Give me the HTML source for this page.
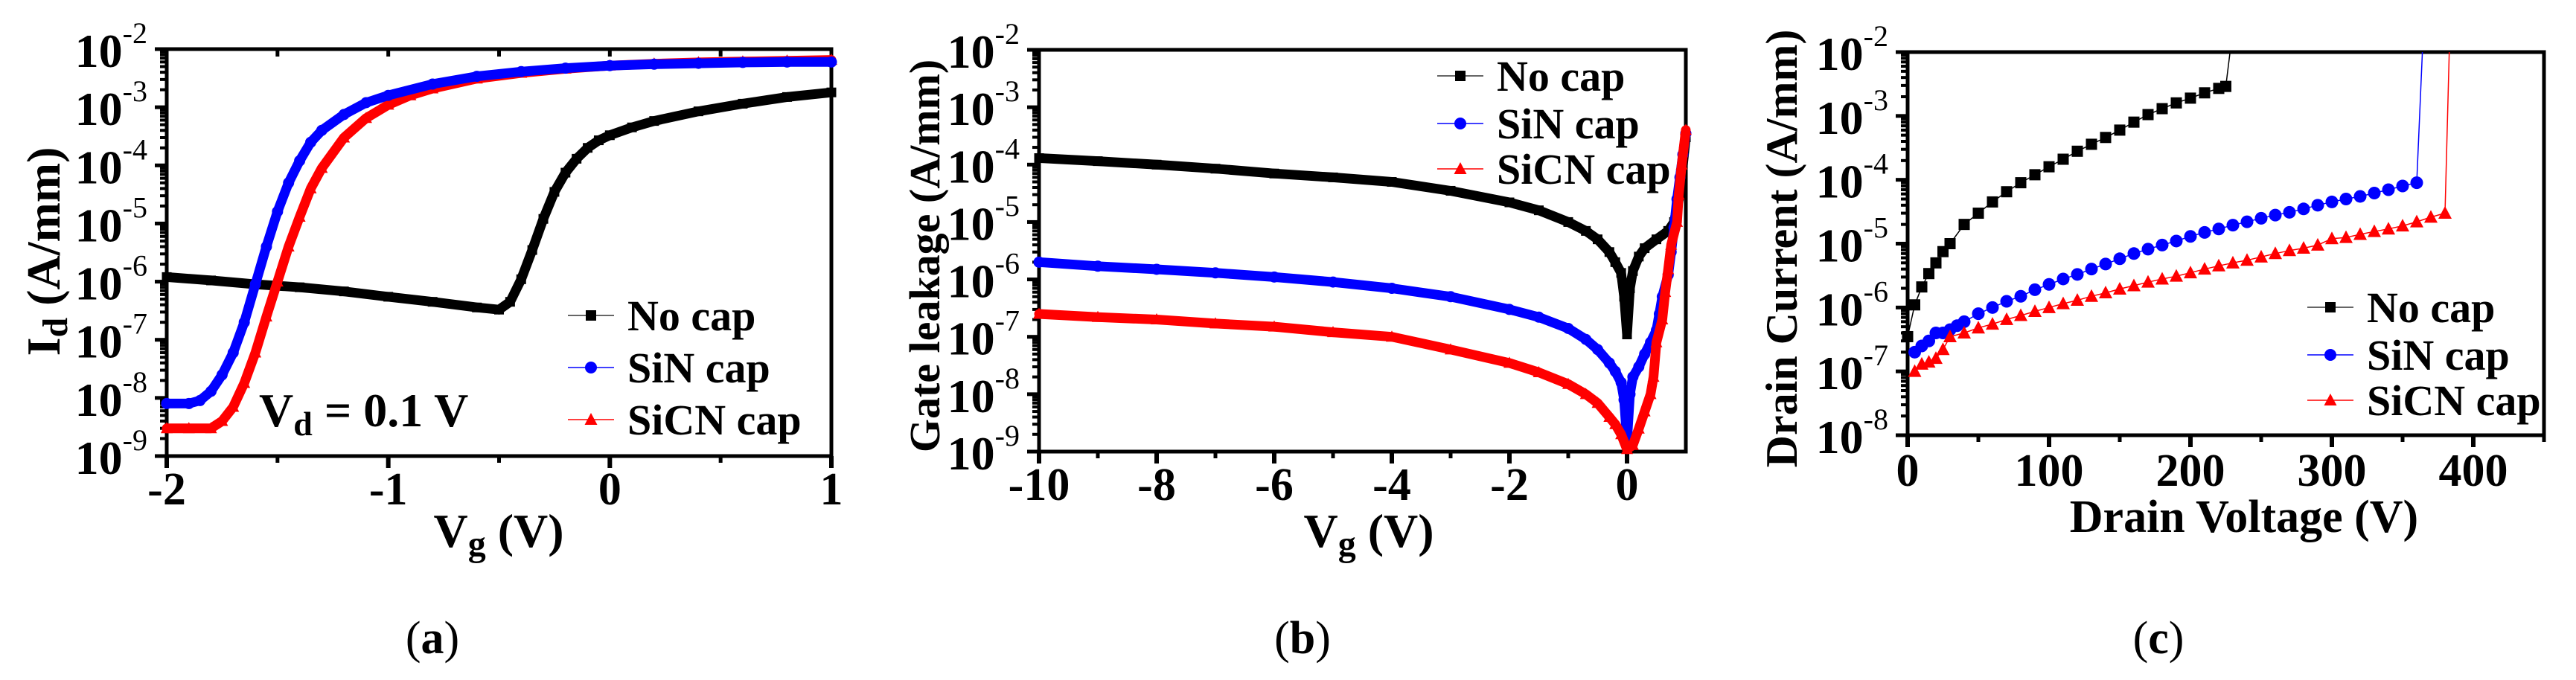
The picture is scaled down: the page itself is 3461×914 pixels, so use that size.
<!DOCTYPE html>
<html><head><meta charset="utf-8"><style>
html,body{margin:0;padding:0;background:#fff;}
svg{display:block;font-family:"Liberation Serif",serif;}
</style></head><body>
<svg id="fig" width="3461" height="914" viewBox="0 0 3461 914" xmlns="http://www.w3.org/2000/svg">
<g id="ga"></g>
<g id="gb"></g>
<g id="gc"></g>
</svg>
<script>
// ---------- Panel (a) data ----------
const aNoCapX = [-2,-1.8,-1.6,-1.4,-1.2,-1.0,-0.8,-0.6,-0.5,-0.45,-0.4,-0.35,-0.3,-0.25,-0.2,-0.15,-0.1,-0.05,0,0.1,0.2,0.4,0.6,0.8,1];
const aNoCapY = [1.2e-6,1.05e-6,9e-7,8e-7,6.8e-7,5.5e-7,4.5e-7,3.6e-7,3.3e-7,4.5e-7,1.1e-6,3.5e-6,1.2e-5,3.5e-5,7.5e-5,1.3e-4,2e-4,2.7e-4,3.3e-4,4.5e-4,5.8e-4,8.5e-4,1.15e-3,1.5e-3,1.8e-3];
const aSiNX = [-2,-1.9,-1.85,-1.8,-1.75,-1.7,-1.65,-1.6,-1.55,-1.5,-1.45,-1.4,-1.35,-1.3,-1.2,-1.1,-1.0,-0.8,-0.6,-0.4,-0.2,0,0.2,0.4,0.6,0.8,1];
const aSiNY = [8e-9,8e-9,9e-9,1.3e-8,2.5e-8,6e-8,2e-7,9e-7,4e-6,1.6e-5,5e-5,1.2e-4,2.5e-4,4e-4,7.5e-4,1.2e-3,1.6e-3,2.5e-3,3.4e-3,4.1e-3,4.7e-3,5.2e-3,5.5e-3,5.7e-3,5.9e-3,6e-3,6e-3];
const aSiCNX = [-2,-1.9,-1.8,-1.75,-1.7,-1.65,-1.6,-1.55,-1.5,-1.45,-1.4,-1.35,-1.3,-1.2,-1.1,-1.0,-0.9,-0.8,-0.6,-0.4,-0.2,0,0.2,0.4,0.6,0.8,1];
const aSiCNY = [3e-9,3e-9,3e-9,4e-9,7e-9,1.8e-8,6e-8,2.5e-7,1e-6,4e-6,1.3e-5,4e-5,9e-5,3e-4,6.5e-4,1.1e-3,1.6e-3,2.1e-3,3.1e-3,3.9e-3,4.6e-3,5.2e-3,5.6e-3,5.9e-3,6.1e-3,6.3e-3,6.5e-3];
const aXTicks = [-2,-1,0,1];
const aXTickLabels = ["-2","-1","0","1"];
const aYExps = [-2,-3,-4,-5,-6,-7,-8,-9];

// ---------- Panel (b) data ----------
const bNoCapX = [-10,-9,-8,-7,-6,-5,-4,-3,-2,-1.5,-1,-0.7,-0.5,-0.3,-0.2,-0.1,-0.05,0,0.05,0.1,0.2,0.3,0.5,0.7,0.8,0.85,0.9,0.95,1];
const bNoCapY = [1.3e-4,1.15e-4,1e-4,8.5e-5,7e-5,6e-5,5e-5,3.5e-5,2.2e-5,1.6e-5,1e-5,7e-6,5e-6,3e-6,2e-6,1.3e-6,5e-7,1.1e-7,7e-7,1.4e-6,2.5e-6,3.5e-6,5e-6,7e-6,1e-5,1.8e-5,3e-5,1e-4,3e-4];
const bSiNX = [-10,-9,-8,-7,-6,-5,-4,-3,-2,-1.5,-1,-0.7,-0.5,-0.3,-0.2,-0.1,-0.05,0,0.05,0.1,0.2,0.3,0.4,0.5,0.55,0.6,0.7,0.75,0.8,0.85,0.9,0.95,1];
const bSiNY = [2e-6,1.7e-6,1.5e-6,1.3e-6,1.1e-6,9e-7,7e-7,5e-7,3e-7,2.2e-7,1.4e-7,9e-8,6e-8,3.5e-8,2.5e-8,1.6e-8,8e-9,1.5e-9,1e-8,2e-8,3e-8,5e-8,8e-8,1.3e-7,2.5e-7,5e-7,1.2e-6,3e-6,8e-6,2.5e-5,6e-5,1.5e-4,3.5e-4];
const bSiCNX = [-10,-9,-8,-7,-6,-5,-4,-3,-2,-1.5,-1,-0.7,-0.5,-0.3,-0.2,-0.1,0,0.1,0.2,0.3,0.4,0.45,0.5,0.6,0.65,0.7,0.75,0.85,0.88,0.93,1];
const bSiCNY = [2.5e-7,2.2e-7,2e-7,1.7e-7,1.5e-7,1.2e-7,1e-7,6e-8,3.5e-8,2.4e-8,1.5e-8,1e-8,7e-9,4e-9,3e-9,2e-9,1.1e-9,1.3e-9,2.5e-9,5e-9,1e-8,2e-8,8e-8,2e-7,6e-7,1.5e-6,4e-6,1e-5,3e-5,1e-4,4e-4];
const bXTicks = [-10,-8,-6,-4,-2,0];
const bXTickLabels = ["-10","-8","-6","-4","-2","0"];
const bYExps = [-2,-3,-4,-5,-6,-7,-8,-9];

// ---------- Panel (c) data ----------
const cNoCapX = [0,5,10,15,20,25,30,40,50,60,70,80,90,100,110,120,130,140,150,160,170,180,190,200,210,220,225];
const cNoCapY = [3.5e-7,1.1e-6,2.1e-6,3.4e-6,5e-6,7.5e-6,1e-5,2e-5,3e-5,4.5e-5,6.5e-5,9e-5,1.2e-4,1.6e-4,2.1e-4,2.8e-4,3.6e-4,4.6e-4,6e-4,8e-4,1.05e-3,1.3e-3,1.6e-3,1.9e-3,2.3e-3,2.7e-3,2.9e-3];
const cSiNX = [5,10,15,20,25,30,35,40,50,60,70,80,90,100,110,120,130,140,150,160,170,180,190,200,210,220,230,240,250,260,270,280,290,300,310,320,330,340,350,360];
const cSiNY = [2e-7,2.5e-7,3e-7,4e-7,4e-7,4.5e-7,5.2e-7,6e-7,8e-7,1e-6,1.25e-6,1.5e-6,1.9e-6,2.3e-6,2.8e-6,3.3e-6,4e-6,4.8e-6,5.8e-6,7e-6,8.2e-6,9.5e-6,1.1e-5,1.3e-5,1.5e-5,1.7e-5,1.95e-5,2.2e-5,2.5e-5,2.8e-5,3.1e-5,3.5e-5,4e-5,4.5e-5,5e-5,5.5e-5,6.2e-5,7e-5,8e-5,9e-5];
const cSiCNX = [5,10,15,20,25,30,40,50,60,70,80,90,100,110,120,130,140,150,160,170,180,190,200,210,220,230,240,250,260,270,280,290,300,310,320,330,340,350,360,370,380];
const cSiCNY = [1e-7,1.3e-7,1.4e-7,1.6e-7,2.2e-7,3.5e-7,4e-7,4.8e-7,5.5e-7,6.5e-7,7.5e-7,8.7e-7,1e-6,1.15e-6,1.3e-6,1.5e-6,1.7e-6,1.95e-6,2.2e-6,2.5e-6,2.8e-6,3.1e-6,3.5e-6,4e-6,4.5e-6,5e-6,5.5e-6,6.2e-6,7e-6,7.8e-6,8.5e-6,9.5e-6,1.2e-5,1.25e-5,1.4e-5,1.55e-5,1.7e-5,1.9e-5,2.2e-5,2.6e-5,3e-5];
const cBreakdownV = [228,364,383];
const cXTicks = [0,100,200,300,400];
const cXTickLabels = ["0","100","200","300","400"];
const cYExps = [-2,-3,-4,-5,-6,-7,-8];

const NS = "http://www.w3.org/2000/svg";
function mk(parent, tag, attrs, text){
  const e = document.createElementNS(NS, tag);
  for (const k in attrs) e.setAttribute(k, attrs[k]);
  if (text !== undefined) e.textContent = text;
  parent.appendChild(e);
  return e;
}
function makeAxes(p){
  p.sx = v => p.x0 + (v - p.xmin) / (p.xmax - p.xmin) * (p.x1 - p.x0);
  p.sy = v => p.y0 + (p.decTop - Math.log10(v)) / (p.decTop - p.decBot) * (p.y1 - p.y0);
  return p;
}
function marker(g, kind, x, y, color, s){
  let m;
  if (kind === 'square') m = mk(g,'rect',{x:x-s/2,y:y-s/2,width:s,height:s,fill:color});
  else if (kind === 'circle') m = mk(g,'circle',{cx:x,cy:y,r:s/2+1,fill:color});
  else m = mk(g,'polygon',{points:`${x},${y-s/2-2} ${x-s/2-1.5},${y+s/2} ${x+s/2+1.5},${y+s/2}`,fill:color});
  return m;
}
function drawFrame(g, p, xTicks, xLabels, yExps, xMinor, labelY){
  for (let d = p.decBot; d < p.decTop; d++){
    for (let k = 2; k <= 9; k++){
      const y = p.sy(k * Math.pow(10, d));
      const t = mk(g,'line',{x1:p.x0-9,x2:p.x0,y1:y,y2:y,stroke:'#000','stroke-width':4});
      
      
    }
  }
  yExps.forEach(e => {
    const y = p.sy(Math.pow(10, e));
    const t = mk(g,'line',{x1:p.x0-16,x2:p.x0,y1:y,y2:y,stroke:'#000','stroke-width':5});
    
    
    const tx = mk(g,'text',{x:p.x0-26,y:y+24,'text-anchor':'end','font-size':64,'font-weight':'bold'});
    
    
    mk(tx,'tspan',{},'10');
    mk(tx,'tspan',{dy:-32,'font-size':40,'font-weight':'normal'},String(e));
  });
  xMinor.forEach(v => {
    const x = p.sx(v);
    const t = mk(g,'line',{x1:x,x2:x,y1:p.y1,y2:p.y1+9,stroke:'#000','stroke-width':5});
    
    
  });
  xTicks.forEach((v,i) => {
    const x = p.sx(v);
    const t = mk(g,'line',{x1:x,x2:x,y1:p.y1,y2:p.y1+16,stroke:'#000','stroke-width':6});
    
    
    const tx = mk(g,'text',{x:x,y:labelY,'text-anchor':'middle','font-size':62,'font-weight':'bold'},xLabels[i]);
    
    
  });
  const fr = mk(g,'rect',{x:p.x0,y:p.y0,width:p.x1-p.x0,height:p.y1-p.y0,fill:'none',stroke:'#000','stroke-width':5});
  
  
}
function drawSeries(g, p, xs, ys, color, kind, ms, lw, name){
  const sg = mk(g,'g',{});
  
  
  const pts = [];
  xs.forEach((v,i) => {
    const yv = Math.max(ys[i], Math.pow(10, p.decBot));
    pts.push(p.sx(v).toFixed(1) + ',' + p.sy(yv).toFixed(1));
  });
  const pl = mk(sg,'polyline',{points:pts.join(' '),fill:'none',stroke:color,'stroke-width':lw,'stroke-linejoin':'round','stroke-linecap':'round'});
  
  
  xs.forEach((v,i) => {
    const yv = Math.max(ys[i], Math.pow(10, p.decBot));
    const m = marker(sg, kind, p.sx(v), p.sy(yv), color, ms);
    
    
  });
  return sg;
}
function legend(g, x, ys, labels, colors, kinds){
  labels.forEach((lab,i) => {
    const lg = mk(g,'g',{});
    
    
    mk(lg,'line',{x1:x,x2:x+62,y1:ys[i],y2:ys[i],stroke:colors[i] === '#000' ? '#333' : colors[i],'stroke-width':1.5});
    marker(lg, kinds[i], x+31, ys[i], colors[i], 14);
    const t = mk(lg,'text',{x:x+80,y:ys[i]+20,'font-size':58,'font-weight':'bold'},lab);
    
    
  });
}
function rotTitle(g, x, y, size, parts, name){
  const t = mk(g,'text',{transform:`translate(${x},${y}) rotate(-90)`,'text-anchor':'middle','font-size':size,'font-weight':'bold'});
  
  
  parts.forEach(pt => mk(t,'tspan',pt.a||{},pt.s));
  return t;
}
const labels = ["No cap","SiN cap","SiCN cap"];
const colors = ["#000","#0000ff","#ff0000"];
const kinds = ["square","circle","triangle"];

// ===== Panel a =====
(function(){
  const g = document.getElementById('ga');
  const p = makeAxes({x0:224,x1:1117,y0:66,y1:613,xmin:-2,xmax:1,decTop:-2,decBot:-9});
  drawFrame(g,p,aXTicks,aXTickLabels,aYExps,[-1.5,-0.5,0.5],678);
  [-1.5,-1,-0.5,0,0.5].forEach(v=>{ mk(g,'line',{x1:p.sx(v),x2:p.sx(v),y1:p.y0,y2:p.y0+10,stroke:'#000','stroke-width':5}); });
  drawSeries(g,p,aNoCapX,aNoCapY,'#000','square',13,13,'series-no-cap');
  drawSeries(g,p,aSiCNX,aSiCNY,'#ff0000','triangle',13,13,'series-sicn-cap');
  drawSeries(g,p,aSiNX,aSiNY,'#0000ff','circle',13,13,'series-sin-cap');
  legend(g,763,[424,494,564],labels,colors,kinds);
  const vd = mk(g,'text',{x:348,y:573,'font-size':64,'font-weight':'bold'});
  
  
  mk(vd,'tspan',{},'V');
  mk(vd,'tspan',{dy:12,'font-size':46},'d');
  mk(vd,'tspan',{dy:-12},' = 0.1 V');
  rotTitle(g,80,338,64,[{s:'I'},{s:'d',a:{dy:10,'font-size':48}},{s:' (A/mm)',a:{dy:-10}}],'y-axis-title');
  const xt = mk(g,'text',{x:670,y:735,'text-anchor':'middle','font-size':64,'font-weight':'bold'});
  
  
  mk(xt,'tspan',{},'V'); mk(xt,'tspan',{dy:12,'font-size':48},'g'); mk(xt,'tspan',{dy:-12},' (V)');
  const cap = mk(g,'text',{x:581,y:878,'text-anchor':'middle','font-size':62},'(');
  
  
  mk(cap,'tspan',{'font-weight':'bold'},'a'); mk(cap,'tspan',{},')');
})();

// ===== Panel b =====
(function(){
  const g = document.getElementById('gb');
  const p = makeAxes({x0:1396,x1:2265,y0:67,y1:607,xmin:-10,xmax:1,decTop:-2,decBot:-9});
  drawFrame(g,p,bXTicks,bXTickLabels,bYExps,[-9,-7,-5,-3,-1],672);
  drawSeries(g,p,bNoCapX,bNoCapY,'#000','square',13,13,'series-no-cap');
  drawSeries(g,p,bSiNX,bSiNY,'#0000ff','circle',13,13,'series-sin-cap');
  drawSeries(g,p,bSiCNX,bSiCNY,'#ff0000','triangle',13,13,'series-sicn-cap');
  legend(g,1931,[102,166,227],labels,colors,kinds);
  rotTitle(g,1262,344,58,[{s:'Gate leakage (A/mm)'}],'y-axis-title');
  const xt = mk(g,'text',{x:1839,y:735,'text-anchor':'middle','font-size':64,'font-weight':'bold'});
  
  
  mk(xt,'tspan',{},'V'); mk(xt,'tspan',{dy:12,'font-size':48},'g'); mk(xt,'tspan',{dy:-12},' (V)');
  const cap = mk(g,'text',{x:1750,y:878,'text-anchor':'middle','font-size':62},'(');
  
  
  mk(cap,'tspan',{'font-weight':'bold'},'b'); mk(cap,'tspan',{},')');
})();

// ===== Panel c =====
(function(){
  const g = document.getElementById('gc');
  const p = makeAxes({x0:2563,x1:3418,y0:70,y1:585,xmin:0,xmax:450,decTop:-2,decBot:-8});
  drawFrame(g,p,cXTicks,cXTickLabels,cYExps,[50,150,250,350,450],653);
  const sN = drawSeries(g,p,cNoCapX,cNoCapY,'#000','square',15,1.5,'series-no-cap');
  const sS = drawSeries(g,p,cSiNX,cSiNY,'#0000ff','circle',15,1.5,'series-sin-cap');
  const sC = drawSeries(g,p,cSiCNX,cSiCNY,'#ff0000','triangle',15,1.5,'series-sicn-cap');
  [[sN,cNoCapX,cNoCapY,'#000'],[sS,cSiNX,cSiNY,'#0000ff'],[sC,cSiCNX,cSiCNY,'#ff0000']].forEach((s,i)=>{
    const n = s[1].length-1;
    const bl = mk(s[0],'line',{x1:p.sx(s[1][n]),y1:p.sy(s[2][n]),x2:p.sx(cBreakdownV[i]),y2:p.y0,stroke:s[3],'stroke-width':1.5});
    
    
  });
  legend(g,3100,[413,477,538],labels,colors,kinds);
  rotTitle(g,2414,334,60,[{s:'Drain Current (A/mm)'}],'y-axis-title');
  const xt = mk(g,'text',{x:3015,y:715,'text-anchor':'middle','font-size':62,'font-weight':'bold'},'Drain Voltage (V)');
  
  
  const cap = mk(g,'text',{x:2900,y:878,'text-anchor':'middle','font-size':62},'(');
  
  
  mk(cap,'tspan',{'font-weight':'bold'},'c'); mk(cap,'tspan',{},')');
})();
</script>
</body></html>
